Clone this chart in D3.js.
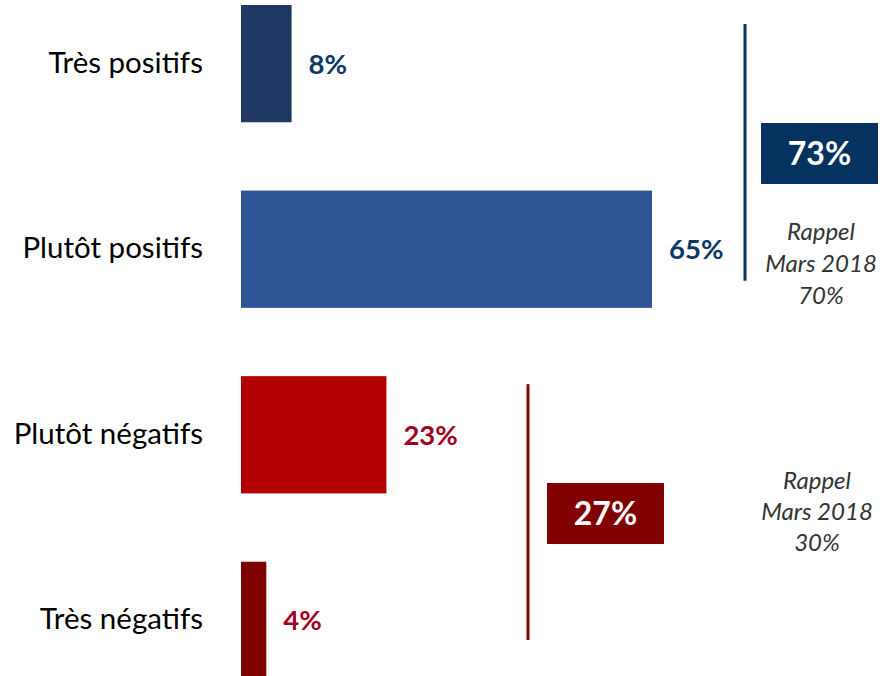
<!DOCTYPE html>
<html>
<head>
<meta charset="utf-8">
<script src="https://cdn.jsdelivr.net/npm/d3@7"></script>
<style>
  body { margin: 0; background: #fff; }
  text { font-family: Lato, "Open Sans", sans-serif; }
</style>
</head>
<body>
<svg id="chart"></svg>
<script>
// data
let categories = ["Très positifs", "Plutôt positifs", "Plutôt négatifs", "Très négatifs"]
let values = [8, 65, 23, 4]
let barColors = ["#203864", "#2F5597", "#B30000", "#7F0000"]
let labelColors = ["#0B3867", "#0B3867", "#A50021", "#A50021"]

// totals: positive / negative groups
let groupNames = ["positifs", "négatifs"]
let groupTotals = [73, 27]
let groupMembers = [[0, 1], [2, 3]]
let rappelYear = "Mars 2018"
let rappelValues = [70, 30]

let width = 884
let height = 676

let svg = d3.select("#chart")
    .attr("width", width)
    .attr("height", height)

let xScale = d3.scaleLinear()
    .domain([0, d3.max(values)])
    .range([241, 652])

let yScale = d3.scaleBand()
    .domain(categories)
    .range([5, 679])
    .paddingInner(0.368)
    .paddingOuter(0)

let bw = yScale.bandwidth()

// bars
svg.append("g").attr("id", "bars")
    .selectAll("rect")
    .data(values)
    .enter()
    .append("rect")
    .attr("x", xScale(0))
    .attr("y", (d, i) => yScale(categories[i]))
    .attr("width", d => xScale(d) - xScale(0))
    .attr("height", bw)
    .attr("fill", (d, i) => barColors[i])

// category labels
svg.append("g").attr("id", "cat_labels")
    .selectAll("text")
    .data(categories)
    .enter()
    .append("text")
    .text(d => d)
    .attr("x", 203)
    .attr("y", d => yScale(d) + bw / 2 + 9)
    .attr("text-anchor", "end")
    .attr("font-size", 29.5)
    .attr("fill", "#000")

// value labels
svg.append("g").attr("id", "val_labels")
    .selectAll("text")
    .data(values)
    .enter()
    .append("text")
    .text(d => d + "%")
    .attr("x", d => xScale(d) + 17)
    .attr("y", (d, i) => yScale(categories[i]) + bw / 2 + 10)
    .attr("font-size", 27.5)
    .attr("font-weight", "bold")
    .attr("fill", (d, i) => labelColors[i])

// group brackets, total boxes and rappel
let groupLayout = [
    {lineX: 745, top: 19, bottom: -27, boxX: 761, boxY: 123, rappelX: 821, rappelY: 240, lh: 32, color: "#06325F"},
    {lineX: 528, top: 8, bottom: -39, boxX: 547, boxY: 483, rappelX: 817, rappelY: 489, lh: 31, color: "#800000"}
]
let boxW = 117
let boxH = 61

groupNames.forEach(function(name, g) {
    let lay = groupLayout[g]
    let first = categories[groupMembers[g][0]]
    let last = categories[groupMembers[g][1]]
    let grp = svg.append("g").attr("id", "group_" + name)

    grp.append("line")
        .attr("x1", lay.lineX).attr("x2", lay.lineX)
        .attr("y1", yScale(first) + lay.top)
        .attr("y2", yScale(last) + bw + lay.bottom)
        .attr("stroke", lay.color)
        .attr("stroke-width", 3)

    grp.append("rect")
        .attr("x", lay.boxX)
        .attr("y", lay.boxY)
        .attr("width", boxW)
        .attr("height", boxH)
        .attr("fill", lay.color)

    grp.append("text")
        .text(groupTotals[g] + "%")
        .attr("x", lay.boxX + boxW / 2)
        .attr("y", lay.boxY + boxH / 2 + 11)
        .attr("text-anchor", "middle")
        .attr("font-size", 32)
        .attr("font-weight", "bold")
        .attr("fill", "#fff")

    let rappel = grp.append("text")
        .attr("text-anchor", "middle")
        .attr("font-size", 24)
        .attr("font-style", "italic")
        .attr("fill", "#333")
    ;["Rappel", rappelYear, rappelValues[g] + "%"].forEach(function(t, k) {
        rappel.append("tspan")
            .text(t)
            .attr("x", lay.rappelX)
            .attr("y", lay.rappelY + k * lay.lh)
    })
})
</script>
</body>
</html>
